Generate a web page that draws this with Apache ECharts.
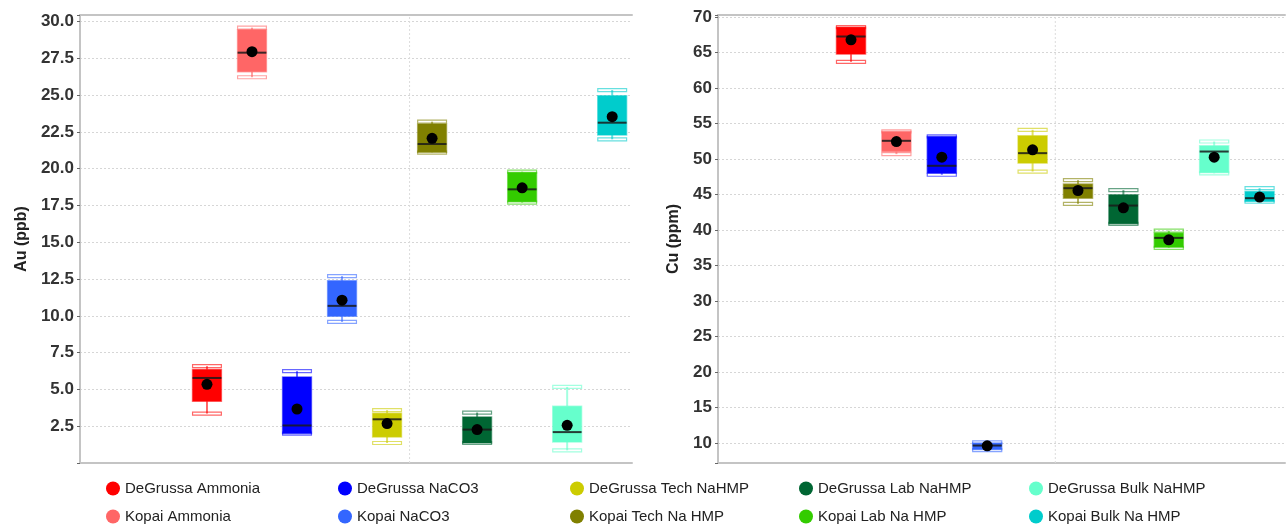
<!DOCTYPE html>
<html>
<head>
<meta charset="utf-8">
<title>Au and Cu box plots</title>
<script src="https://cdn.jsdelivr.net/npm/echarts@6/dist/echarts.min.js"></script>
<style>
  html, body { margin: 0; padding: 0; background: #fff; }
  #chart { width: 1287px; height: 526px; }
</style>
</head>
<body>
<div id="chart"></div>
<script>
// Sample series, in drawing order along each panel
const categories = [
  'DeGrussa Ammonia', 'Kopai Ammonia',
  'DeGrussa NaCO3', 'Kopai NaCO3',
  'DeGrussa Tech NaHMP', 'Kopai Tech Na HMP',
  'DeGrussa Lab NaHMP', 'Kopai Lab Na HMP',
  'DeGrussa Bulk NaHMP', 'Kopai Bulk Na HMP'
];
const colors = [
  '#FF0000', '#FF6666',
  '#0000FF', '#3366FF',
  '#CCCC00', '#808000',
  '#006633', '#33CC00',
  '#66FFCC', '#00CCCC'
];

// Au (ppb): whisker low, Q1, median, Q3, whisker high, mean
const auLow    = [3.36, 26.22, 2.00,  9.59, 1.36, 21.10, 1.36, 17.70, 0.86, 22.00];
const auQ1     = [4.20, 26.60, 2.00,  9.98, 1.77, 21.12, 1.36, 17.76, 1.43, 22.29];
const auMedian = [5.78, 27.89, 2.55, 10.68, 2.97, 21.68, 2.27, 18.60, 2.10, 23.13];
const auQ3     = [6.35, 29.44, 5.85, 12.38, 3.38, 23.04, 3.13, 19.75, 3.86, 24.97];
const auHigh   = [6.58, 29.59, 6.24, 12.70, 3.59, 23.20, 3.43, 19.80, 5.17, 25.35];
const auMean   = [5.35, 27.96, 3.67, 11.07, 2.68, 22.07, 2.27, 18.70, 2.56, 23.54];

// Cu (ppm): whisker low, Q1, median, Q3, whisker high, mean
const cuLow    = [63.70, 50.70, 47.80,  9.00, 48.25, 43.70, 40.89, 37.50, 48.00, 44.00];
const cuQ1     = [64.79, 51.07, 48.03,  9.10, 49.44, 44.50, 40.89, 37.60, 48.11, 44.03];
const cuMedian = [67.27, 52.58, 49.06,  9.66, 50.84, 45.91, 43.46, 38.91, 51.07, 44.50];
const cuQ3     = [68.59, 53.89, 53.18, 10.00, 53.28, 46.48, 44.97, 39.58, 51.87, 45.44];
const cuHigh   = [68.60, 53.90, 53.20, 10.10, 54.13, 47.04, 45.63, 39.94, 52.48, 45.91];
const cuMean   = [66.80, 52.48, 50.28,  9.62, 51.31, 45.58, 43.14, 38.63, 50.28, 44.65];

// Axis tick settings
const auTickStep = 2.5;
const cuTickStep = 5;
const dividerAt = 4.5;   // dotted divider between the two sample halves

const BOX_W = 0.64;      // box width in x units

function renderBox(params, api) {
  const x = api.value(0);
  const lo = api.value(1), q1 = api.value(2), med = api.value(3);
  const q3 = api.value(4), hi = api.value(5), mean = api.value(6);
  const color = api.visual('color');
  const w = api.size([BOX_W, 0])[0];
  const pLo = api.coord([x, lo]);
  const pQ1 = api.coord([x, q1]);
  const pMed = api.coord([x, med]);
  const pQ3 = api.coord([x, q3]);
  const pHi = api.coord([x, hi]);
  const pMean = api.coord([x, mean]);
  const cx = pMed[0];
  const left = cx - w / 2;
  const capStyle = { stroke: color, lineWidth: 2, opacity: 0.6 };
  const children = [
    { type: 'line', shape: { x1: cx, y1: pQ3[1], x2: cx, y2: pHi[1] }, style: capStyle },
    { type: 'line', shape: { x1: cx, y1: pQ1[1], x2: cx, y2: pLo[1] }, style: capStyle },
    { type: 'rect', shape: { x: left, y: pHi[1] - 1.5, width: w, height: 3 },
      style: { fill: null, stroke: color, lineWidth: 1.2, opacity: 0.6 } },
    { type: 'rect', shape: { x: left, y: pLo[1] - 1.5, width: w, height: 3 },
      style: { fill: null, stroke: color, lineWidth: 1.2, opacity: 0.6 } },
    { type: 'rect', shape: { x: left, y: pQ3[1], width: w, height: Math.max(pQ1[1] - pQ3[1], 1) },
      style: { fill: color, stroke: color, lineWidth: 1.5, strokeOpacity: 0.55 } },
    { type: 'line', shape: { x1: left, y1: pMed[1], x2: left + w, y2: pMed[1] },
      style: { stroke: '#1a1a1a', lineWidth: 2, opacity: 0.85 } },
    { type: 'circle', shape: { cx: cx, cy: pMean[1], r: 5.5 }, style: { fill: '#000' } }
  ];
  return { type: 'group', children: children };
}

function boxSeries(gridIdx, low, q1, med, q3, high, mean) {
  return categories.map(function (name, i) {
    return {
      name: name,
      type: 'custom',
      xAxisIndex: gridIdx * 2,
      yAxisIndex: gridIdx,
      itemStyle: { color: colors[i] },
      renderItem: renderBox,
      encode: { x: 0, y: [1, 2, 3, 4, 5, 6] },
      data: [[i, low[i], q1[i], med[i], q3[i], high[i], mean[i]]],
      z: 3
    };
  });
}

function dividerSeries(gridIdx, yMin, yMax) {
  return {
    type: 'line',
    xAxisIndex: gridIdx * 2,
    yAxisIndex: gridIdx,
    silent: true,
    symbol: 'none',
    lineStyle: { color: '#dcdcdc', width: 1, type: [2, 2] },
    data: [[dividerAt, yMin], [dividerAt, yMax]],
    z: 1
  };
}

const frameLine = { show: true, onZero: false, lineStyle: { color: '#c4c4c4', width: 2 } };
const gridDots = { show: true, lineStyle: { color: '#d6d6d6', width: 1, type: [2, 2] } };
const labelFont = {
  color: '#333', fontSize: 17, fontWeight: 'bold',
  fontFamily: '"Liberation Sans", Arial, sans-serif', margin: 6
};
const nameFont = {
  color: '#222', fontSize: 16, fontWeight: 'bold',
  fontFamily: '"Liberation Sans", Arial, sans-serif'
};

function hiddenX(gridIdx, min, max, pos) {
  return {
    type: 'value', gridIndex: gridIdx, min: min, max: max, position: pos,
    axisLine: frameLine, axisTick: { show: false }, axisLabel: { show: false },
    splitLine: { show: false }
  };
}

function stepLabel(step, digits, minShown) {
  return function (v) {
    const k = v / step;
    if (Math.abs(k - Math.round(k)) > 1e-6 || v < minShown - 1e-6) return '';
    return v.toFixed(digits);
  };
}

const legendCols = [106, 338, 570, 799, 1029];
const legends = legendCols.map(function (x, c) {
  return {
    orient: 'vertical', left: x, top: 481, padding: 0,
    itemWidth: 14, itemHeight: 14, itemGap: 13, icon: 'circle',
    selectedMode: false,
    textStyle: { color: '#222', fontSize: 15, fontFamily: '"Liberation Sans", Arial, sans-serif' },
    data: [categories[c * 2], categories[c * 2 + 1]]
  };
});

const auMin = 0, auMax = 30.45;
const cuMin = 7.2, cuMax = 70.3;

const option = {
  animation: false,
  backgroundColor: '#fff',
  legend: legends,
  grid: [
    { left: 80, right: 655, top: 15, bottom: 63 },
    { left: 718, right: 2, top: 15, bottom: 63 }
  ],
  xAxis: [
    hiddenX(0, -2.82, 9.44, 'bottom'),
    hiddenX(0, -2.82, 9.44, 'top'),
    hiddenX(1, -2.93, 9.56, 'bottom'),
    hiddenX(1, -2.93, 9.56, 'top')
  ],
  yAxis: [
    {
      type: 'value', gridIndex: 0, min: auMin, max: auMax, interval: auTickStep,
      name: 'Au (ppb)', nameLocation: 'middle', nameGap: 50, nameTextStyle: nameFont,
      axisLine: frameLine,
      axisTick: { show: true, length: 3, lineStyle: { color: '#666' } },
      axisLabel: Object.assign({ formatter: stepLabel(auTickStep, 1, 2.5) }, labelFont),
      splitLine: gridDots
    },
    {
      type: 'value', gridIndex: 1, min: cuMin, max: cuMax,
      minInterval: cuTickStep, maxInterval: cuTickStep, splitNumber: 12,
      name: 'Cu (ppm)', nameLocation: 'middle', nameGap: 36, nameTextStyle: nameFont,
      axisLine: frameLine,
      axisTick: { show: true, length: 3, lineStyle: { color: '#666' } },
      axisLabel: Object.assign({ formatter: stepLabel(cuTickStep, 0, 10) }, labelFont),
      splitLine: gridDots
    }
  ],
  series: [dividerSeries(0, auMin, auMax), dividerSeries(1, cuMin, cuMax)]
    .concat(boxSeries(0, auLow, auQ1, auMedian, auQ3, auHigh, auMean))
    .concat(boxSeries(1, cuLow, cuQ1, cuMedian, cuQ3, cuHigh, cuMean))
};

const chart = echarts.init(document.getElementById('chart'), null, { renderer: 'canvas' });
chart.setOption(option);
</script>
</body>
</html>
